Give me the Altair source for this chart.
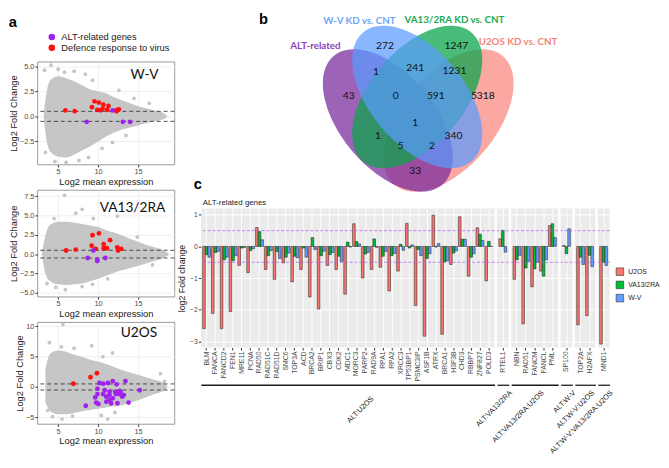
import altair as alt
import numpy as np
import pandas as pd

FONT = "Liberation Sans"
VFONT = "Lato"

# ---------------- panel a : MA plots ----------------
wv_env_x = [3.2, 3.6, 4.0, 5.0, 6.0, 7.0, 8.0, 9.0, 10.0, 11.0, 12.0, 13.0, 14.0, 15.0, 16.0, 17.0, 18.0, 18.6]
wv_env_hi = [0.3, 2.6, 3.6, 4.0, 3.8, 3.5, 3.1, 2.7, 2.5, 2.3, 1.9, 1.6, 1.3, 1.0, 0.8, 0.6, 0.4, 0.1]
wv_env_lo = [-0.3, -2.6, -3.5, -4.0, -4.1, -3.8, -3.4, -3.0, -2.5, -2.0, -1.6, -1.3, -1.1, -0.9, -0.7, -0.5, -0.35, -0.1]
wv_grey_x = [4.1, 3.3, 5.0, 5.8, 7.0, 8.4, 9.3, 3.4, 4.6, 6.0, 7.6, 8.8, 10.5, 11.8, 13.5, 12.6, 14.5, 16.4]
wv_grey_y = [5.1, 4.6, 4.7, 4.4, 4.5, 4.2, 3.6, -3.6, -4.5, -4.6, -4.4, -4.1, -3.2, -2.6, -1.9, 2.6, 1.8, 1.3]
wv_red_x = [5.9, 7.07, 9.23, 9.55, 10.08, 9.9, 10.57, 10.65, 11.3, 11.14, 12.3, 12.6, 12.3, 10.3]
wv_red_y = [0.59, 0.52, 0.92, 1.5, 1.37, 0.65, 0.78, 1.17, 1.04, 0.65, 0.62, 0.7, 0.52, 0.6]
wv_alt_x = [8.57, 11.8, 13.1, 14.0]
wv_alt_y = [-0.55, 0.59, -0.55, -0.55]

va_env_x = [3.0, 3.5, 4.0, 5.0, 6.0, 7.0, 8.0, 9.0, 10.0, 11.0, 12.0, 13.0, 14.0, 15.0, 16.0, 17.0, 18.0, 18.8]
va_env_hi = [0.3, 2.8, 3.8, 4.2, 4.2, 4.1, 3.9, 3.7, 3.5, 3.1, 2.8, 2.4, 2.0, 1.6, 1.2, 0.9, 0.6, 0.1]
va_env_lo = [-0.3, -2.8, -3.5, -3.9, -4.0, -3.9, -3.8, -3.5, -3.2, -2.8, -2.4, -2.1, -1.8, -1.5, -1.2, -0.9, -0.6, -0.1]
va_grey_x = [5.8, 8.0, 7.2, 9.4, 12.4, 4.5, 5.9, 4.7, 8.0, 9.3, 11.2, 3.6, 14.9, 16.8]
va_grey_y = [7.6, 5.8, 5.3, 4.6, 4.9, 4.6, -4.6, -4.3, -4.2, -3.9, -3.2, -3.8, 2.2, -1.4]
va_red_x = [6.0, 7.2, 9.3, 10.1, 9.2, 9.7, 10.7, 10.7, 11.1, 11.5, 12.4, 12.5, 12.9]
va_red_y = [0.47, 0.59, 2.44, 2.69, 1.09, 0.68, 1.3, 0.76, 0.76, 1.81, 0.88, 0.47, 0.68]
va_alt_x = [9.4, 8.7, 9.9, 9.9, 10.9]
va_alt_y = [0.47, -0.5, -0.7, -0.9, -0.5]

u2_env_x = [3.4, 4.0, 5.0, 6.0, 7.0, 8.0, 9.0, 10.0, 11.0, 12.0, 13.0, 14.0, 15.0, 16.0, 17.0, 18.0, 18.6]
u2_env_hi = [3.0, 5.5, 6.0, 5.8, 5.3, 5.0, 4.5, 4.2, 3.8, 3.3, 2.8, 2.4, 2.0, 1.6, 1.2, 0.8, 0.3]
u2_env_lo = [-2.5, -4.0, -4.5, -4.5, -4.3, -4.0, -3.8, -3.6, -3.4, -3.2, -3.0, -2.6, -2.2, -1.7, -1.2, -0.8, -0.3]
u2_grey_x = [5.6, 3.9, 5.4, 7.0, 9.2, 11.8, 10.6, 4.3, 5.5, 6.8, 11.2, 10.4, 12.1, 17.8, 18.3, 3.7]
u2_grey_y = [10.3, 7.3, 6.6, 6.4, 6.8, 5.6, 5.0, -4.9, -5.3, -4.8, -5.3, -4.7, -4.2, 2.2, 0.9, -3.9]
u2_red_x = [6.9, 9.05, 9.85]
u2_red_y = [0.53, 1.6, 2.26]
u2_alt_x = [10.16, 10.63, 11.23, 11.83, 13.42, 12.3, 9.92, 10.83, 11.43, 12.14, 12.7, 9.92, 10.63, 11.43,
            12.22, 12.62, 13.22, 9.64, 11.03, 11.83, 9.76, 10.04, 11.03, 11.63, 12.42, 11.43, 15.2, 8.45,
            13.81, 12.82, 13.02]
u2_alt_y = [0.65, 0.54, 0.65, 0.97, 0.97, 0.43, -0.28, -0.54, -0.81, -0.81, -0.65, -1.18, -1.18, -1.34,
            -1.18, -1.18, -1.34, -1.72, -1.61, -1.88, -2.58, -2.8, -2.42, -2.69, -2.69, -2.15, -0.54, -3.1,
            -2.58, -0.81, -1.61]

ma_names = ["W-V", "VA13/2RA", "U2OS"]
cat_names = ["ALT-related genes", "Defence response to virus"]

# ---------------- panel b : Venn ----------------
venn_set_names = ["ALT-related", "W-V KD vs. CNT", "VA13/2RA KD vs. CNT", "U2OS KD vs. CNT"]
venn_counts = ["272", "1247", "1", "241", "1231", "43", "0", "591", "5318", "1", "1", "340", "5", "2", "33"]
venn_count_x = [388, 461, 379, 419, 459, 351, 399, 440, 488, 419, 381, 458, 404, 436, 419]
venn_count_y = [42, 42, 69, 64, 68, 93, 93, 93, 93, 121, 134, 134, 144, 144, 170]

# ---------------- panel c : bars ----------------
series = ["U2OS", "VA13/2RA", "W-V"]
group_names = ["ALT:U2OS", "ALT:VA13/2RA", "ALT:VA13/2RA:U2OS", "ALT:W-V", "ALT:W-V:U2OS",
               "ALT:W-V:VA13/2RA:U2OS"]
genes_g1 = ["BLM", "FANCA", "FANCD2", "FEN1", "MRE11", "PCNA", "RAD50", "RAD51C", "RAD51D", "SMC6", "TOP3A",
            "ACD", "BRCA2", "BRIP1", "CBX3", "CDK2", "MDC1", "MORC3", "PARP2", "RAD9A", "RPA1", "RPA2",
            "XRCC3", "TP53BP1", "PSMC3IP", "ASF1B", "ATRX", "BRCA1", "H3F3B", "CHD3", "RBBP7", "ZNF827", "POLD3"]
genes_g2 = ["RTEL1"]
genes_g3 = ["NBN", "RAD51", "FANCM", "FANCL", "PML"]
genes_g4 = ["SP100"]
genes_g5 = ["TOP2A", "H2AFX"]
genes_g6 = ["MND1"]
fc_u2os = [-2.6, -2.12, -2.6, -2.06, -0.6, -0.83, 0.6, -0.73, -1.04, -0.52, -1.12,
           -0.73, -1.6, -1.98, -0.6, -0.73, -1.51, 0.72, -1.0, -0.73, -0.66, -1.41,
           -0.78, 0.73, -1.87, -2.84, 0.99, -2.78, -0.57, 0.94, -0.94, 0.59, -1.09,
           0.24,
           -1.04, -2.45, -1.28, -0.78, 0.66,
           0.03,
           -2.48, -2.19,
           -3.09]
fc_va13 = [-0.26, -0.19, -0.42, -0.45, -0.05, -0.13, 0.47, -0.29, -0.16, -0.34, -0.31,
           -0.05, 0.28, -0.29, -0.26, -0.31, 0.14, 0.16, -0.24, 0.24, -0.31, -0.29,
           0.07, -0.05, -0.1, -0.38, -0.02, -0.49, -0.21, 0.23, -0.34, 0.39, 0.16,
           0.51,
           -0.42, -0.68, -0.71, -0.94, 0.72,
           -0.23,
           -0.34, -0.28,
           -0.5]
fc_wv = [-0.34, -0.16, -0.34, -0.29, -0.03, -0.07, 0.21, -0.13, -0.38, -0.21, -0.36,
         -0.34, -0.1, -0.15, -0.19, -0.47, -0.02, 0.08, -0.19, -0.03, -0.16, -0.22,
         -0.12, 0.05, -0.29, -0.23, 0.09, -0.45, -0.14, 0.23, -0.23, 0.19, 0.0,
         -0.18,
         -0.28, -0.47, -0.5, -0.42, 0.28,
         0.56,
         -0.57, -0.64,
         -0.6]

# ---------------- styling ----------------
ALT_COL = "#A020F0"
DEF_COL = "#FF1010"
CLOUD = "#C6C6C6"
SER_COL = ["#F8766D", "#00BA38", "#619CFF"]
TXT = "#1A1A1A"
LAB = "#4D4D4D"


def ma_panel(idx, ex, ehi, elo, gx, gy, rx, ry, ax_, ay_, ydom, yvals, yfmt, lx, ly, h, top):
    xsc = alt.Scale(domain=[2.4, 19.55], nice=False, zero=False)
    ysc = alt.Scale(domain=ydom, nice=False, zero=False)
    xax = alt.Axis(values=[5, 10, 15], title="Log2 mean expression", grid=True, gridColor="#EBEBEB",
                   gridWidth=0.8, domain=False, tickColor="#333333", tickSize=2.5, labelFontSize=7.5,
                   labelColor=LAB, labelFont=FONT, labelPadding=1, titleFont=FONT, titleFontSize=9.5,
                   titleFontWeight="normal", titleColor=TXT, titlePadding=1)
    yax = alt.Axis(values=yvals, format=yfmt, title="Log2 Fold Change", grid=True, gridColor="#EBEBEB",
                   gridWidth=0.8, domain=False, tickColor="#333333", tickSize=2.5, labelFontSize=7.5,
                   labelColor=LAB, labelFont=FONT, labelPadding=1, titleFont=FONT, titleFontSize=9.5,
                   titleFontWeight="normal", titleColor=TXT, titlePadding=1)
    env = pd.DataFrame({"x": ex, "y": ehi, "y2": elo})
    cloud = alt.Chart(env).mark_area(color=CLOUD, interpolate="monotone", opacity=1).encode(
        x=alt.X("x:Q", scale=xsc, axis=xax), y=alt.Y("y:Q", scale=ysc, axis=yax), y2="y2:Q")
    grey = alt.Chart(pd.DataFrame({"x": gx, "y": gy})).mark_circle(size=15, color=CLOUD, opacity=1).encode(
        x=alt.X("x:Q", scale=xsc, axis=xax), y=alt.Y("y:Q", scale=ysc, axis=yax))
    rules = alt.Chart(pd.DataFrame({"y": [0.5, -0.5]})).mark_rule(
        color="#222222", strokeDash=[4, 3], strokeWidth=0.8).encode(y=alt.Y("y:Q", scale=ysc, axis=yax))
    col = pd.DataFrame({"x": rx + ax_, "y": ry + ay_,
                        "cat": [cat_names[1]] * len(rx) + [cat_names[0]] * len(ax_)})
    leg = None
    if top:
        leg = alt.Legend(orient="none", legendX=10, legendY=-30, title=None, direction="vertical",
                         symbolType="circle", symbolSize=45, symbolStrokeWidth=0, labelFont=FONT,
                         labelFontSize=9.5, labelColor=TXT, rowPadding=0, labelOffset=5)
    pts = alt.Chart(col).mark_circle(size=24, opacity=1).encode(
        x=alt.X("x:Q", scale=xsc, axis=xax), y=alt.Y("y:Q", scale=ysc, axis=yax),
        color=alt.Color("cat:N", scale=alt.Scale(domain=cat_names, range=[ALT_COL, DEF_COL]), legend=leg))
    lab = alt.Chart(pd.DataFrame({"x": [lx], "y": [ly], "t": [ma_names[idx]]})).mark_text(
        font=VFONT, fontSize=14, color="#111111").encode(
        x=alt.X("x:Q", scale=xsc, axis=xax), y=alt.Y("y:Q", scale=ysc, axis=yax), text="t:N")
    ch = alt.layer(cloud, grey, rules, pts, lab).properties(
        width=140, height=h, view=alt.ViewBackground(fill="white", stroke="#7F7F7F", strokeWidth=0.8))
    if top:
        ch = ch.properties(title=alt.Title("a", anchor="start", fontSize=15, fontWeight="bold", font=FONT,
                                           offset=2, color="#000000"))
    return ch.resolve_scale(color="independent")


ma1 = ma_panel(0, wv_env_x, wv_env_hi, wv_env_lo, wv_grey_x, wv_grey_y, wv_red_x, wv_red_y, wv_alt_x,
               wv_alt_y, [-4.8, 5.45], [-2.5, 0, 2.5, 5], ".1f", 15.8, 4.1, 105, True)
ma2 = ma_panel(1, va_env_x, va_env_hi, va_env_lo, va_grey_x, va_grey_y, va_red_x, va_red_y, va_alt_x,
               va_alt_y, [-5.5, 8.3], [-5, -2.5, 0, 2.5, 5, 7.5], ".1f", 14.3, 5.9, 109, False)
ma3 = ma_panel(2, u2_env_x, u2_env_hi, u2_env_lo, u2_grey_x, u2_grey_y, u2_red_x, u2_red_y, u2_alt_x,
               u2_alt_y, [-6.1, 10.7], [-5, 0, 5, 10], "d", 15.1, 8.9, 104, False)
col_a = alt.vconcat(ma1, ma2, ma3, spacing=26, bounds="flush").resolve_scale(color="independent")

# ---------------- Venn (coordinates are page pixels) ----------------
VX0, VW, VY0, VH = 200, 450, 58, 147
A_MAJ, B_MIN = 86.0, 48.0
vx = alt.Scale(domain=[VX0, VX0 + VW], nice=False, zero=False)
vy = alt.Scale(domain=[VY0, VY0 + VH], nice=False, zero=False, reverse=True)


def ellipse_outline(cx, cy, a, b, ang, n=80):
    """Upper and lower edge of a rotated ellipse, sampled across its width."""
    th = np.radians(ang)
    s, c = np.sin(th), np.cos(th)
    A = c * c / a ** 2 + s * s / b ** 2
    B = 2 * s * c * (1 / a ** 2 - 1 / b ** 2)
    C = s * s / a ** 2 + c * c / b ** 2
    half = np.sqrt(a * a * c * c + b * b * s * s)
    u = np.cos(np.linspace(np.pi, 0, n)) * half * 0.99999
    disc = np.clip(B * B * u * u - 4 * C * (A * u * u - 1), 0, None)
    y1 = (-B * u - np.sqrt(disc)) / (2 * C)
    y2 = (-B * u + np.sqrt(disc)) / (2 * C)
    return pd.DataFrame({"x": cx + u, "y": cy + y1, "y2": cy + y2})


ell_specs = [(453, 118, 130, "#F8766D", 0.64), (391, 118, 50, "#7B2C9E", 0.74),
             (421, 94, 130, "#0BA44C", 0.74), (421, 94, 50, "#5A9BFF", 0.72)]
ell_layers = []
for cx, cy, ang, colr, op in ell_specs:
    ell_layers.append(alt.Chart(ellipse_outline(cx, cy, A_MAJ, B_MIN, ang)).mark_area(
        color=colr, opacity=op, interpolate="linear").encode(
        x=alt.X("x:Q", scale=vx, axis=None), y=alt.Y("y:Q", scale=vy, axis=None), y2="y2:Q"))
nums = alt.Chart(pd.DataFrame({"x": venn_count_x, "y": venn_count_y, "t": venn_counts})).mark_text(
    font=VFONT, fontSize=10.5, color="#111111").encode(
    x=alt.X("x:Q", scale=vx, axis=None), y=alt.Y("y:Q", scale=vy, axis=None), text="t:N")
setlab = alt.Chart(pd.DataFrame({"x": [317, 362, 459, 524], "y": [42, 17, 15, 38], "t": venn_set_names,
                                 "c": ["#8E3FB8", "#6FA6F7", "#1DAA55", "#F4837A"]})).mark_text(
    font=VFONT, fontSize=10, fontWeight="bold").encode(
    x=alt.X("x:Q", scale=vx, axis=None), y=alt.Y("y:Q", scale=vy, axis=None), text="t:N",
    color=alt.Color("c:N", scale=None))
letters = alt.Chart(pd.DataFrame({"x": [264, 197], "y": [15, 183], "t": ["b", "c"]})).mark_text(
    font=FONT, fontSize=15, fontWeight="bold", color="#000000").encode(
    x=alt.X("x:Q", scale=vx, axis=None), y=alt.Y("y:Q", scale=vy, axis=None), text="t:N")
subt = alt.Chart(pd.DataFrame({"x": [202], "y": [202], "t": ["ALT-related genes"]})).mark_text(
    font=FONT, fontSize=8, color=TXT, align="left").encode(
    x=alt.X("x:Q", scale=vx, axis=None), y=alt.Y("y:Q", scale=vy, axis=None), text="t:N")
venn = alt.layer(*ell_layers, nums, setlab, letters, subt).properties(
    width=VW, height=VH, view=alt.ViewBackground(fill=None, stroke=None))

# ---------------- bars ----------------
STEP = 9.0
BAR_H = 142
ysc_b = alt.Scale(domain=[-3.2, 1.2], nice=False, zero=False)
all_groups = [genes_g1, genes_g2, genes_g3, genes_g4, genes_g5, genes_g6]
rows = []
k = 0
for gi, gl in enumerate(all_groups):
    for g in gl:
        rows.append({"group": group_names[gi], "gene": g, "series": series[0], "val": fc_u2os[k]})
        rows.append({"group": group_names[gi], "gene": g, "series": series[1], "val": fc_va13[k]})
        rows.append({"group": group_names[gi], "gene": g, "series": series[2], "val": fc_wv[k]})
        k += 1
bars_df = pd.DataFrame(rows)


def group_chart(gi, first, last):
    genes = all_groups[gi]
    n = len(genes)
    w = round(STEP * (n + 0.3))
    df = bars_df[bars_df["group"] == group_names[gi]]
    xsc = alt.Scale(domain=genes, paddingInner=0.1, paddingOuter=0.2)
    xax = alt.Axis(orient="bottom", labelAngle=270, labelFontSize=7, labelFont=FONT, labelColor=LAB,
                   tickColor="#333333", tickSize=2.5, domain=False, grid=True, gridColor="white",
                   gridWidth=0.9, title=None, labelPadding=1)
    if first:
        yax = alt.Axis(values=[-3, -2, -1, 0, 1], title="log2 Fold change", grid=True, gridColor="white",
                       gridWidth=0.9, domain=False, tickColor="#333333", tickSize=2.5, labelFontSize=7,
                       labelColor=LAB, labelFont=FONT, labelPadding=1, titleFont=FONT, titleFontSize=9,
                       titleFontWeight="normal", titleColor=TXT, titlePadding=3)
    else:
        yax = alt.Axis(values=[-3, -2, -1, 0, 1], title=None, labels=False, ticks=False, domain=False,
                       grid=True, gridColor="white", gridWidth=0.9)
    leg = None
    if last:
        leg = alt.Legend(orient="none", legendX=w + 6, legendY=60, title=None, symbolType="square",
                         symbolSize=60, symbolStrokeColor="#333333", symbolStrokeWidth=0.6, labelFont=FONT,
                         labelFontSize=7, labelColor=TXT, rowPadding=2.5, labelOffset=4)
    bars = alt.Chart(df).mark_bar(stroke="#1A1A1A", strokeWidth=0.5).encode(
        x=alt.X("gene:N", scale=xsc, sort=genes, axis=xax),
        xOffset=alt.XOffset("series:N", scale=alt.Scale(domain=series, paddingInner=0, paddingOuter=0),
                            sort=series),
        y=alt.Y("val:Q", scale=ysc_b, axis=yax),
        color=alt.Color("series:N", scale=alt.Scale(domain=series, range=SER_COL), legend=leg))
    rules = alt.Chart(pd.DataFrame({"val": [0.5, -0.5]})).mark_rule(
        color="#A855F7", strokeDash=[3, 2], strokeWidth=0.7).encode(y=alt.Y("val:Q", scale=ysc_b, axis=yax))
    tx = w / 2 + (22 if first else 5)
    ty = 10 if first else 4
    gline = alt.Chart(pd.DataFrame({"gene": genes})).mark_tick(opacity=0).encode(
        x=alt.X("gene:N", scale=xsc, sort=genes,
                axis=alt.Axis(orient="bottom", labels=False, ticks=False, grid=False, domain=True,
                              domainColor=TXT, domainWidth=1.3, offset=38, title=group_names[gi],
                              titleAngle=315, titleAlign="right", titleBaseline="top", titleFontSize=7.5,
                              titleFont=FONT, titleFontWeight="normal", titleColor=TXT,
                              titleX=tx, titleY=ty)))
    return alt.layer(bars, rules, gline).resolve_axis(x="independent").properties(
        width=w, height=BAR_H, view=alt.ViewBackground(fill="#EBEBEB", stroke=None))


bar_row = alt.hconcat(*[group_chart(i, i == 0, i == 5) for i in range(6)], spacing=2.5,
                      bounds="flush").resolve_scale(color="independent")
col_b = alt.vconcat(venn, bar_row, spacing=2).resolve_scale(color="independent")

chart = alt.hconcat(col_a, col_b, spacing=2).resolve_scale(color="independent").properties(
    padding=0).configure_view(stroke=None).configure(font=FONT)

chart.save("out.html", embed_options={"renderer": "svg", "actions": False})
